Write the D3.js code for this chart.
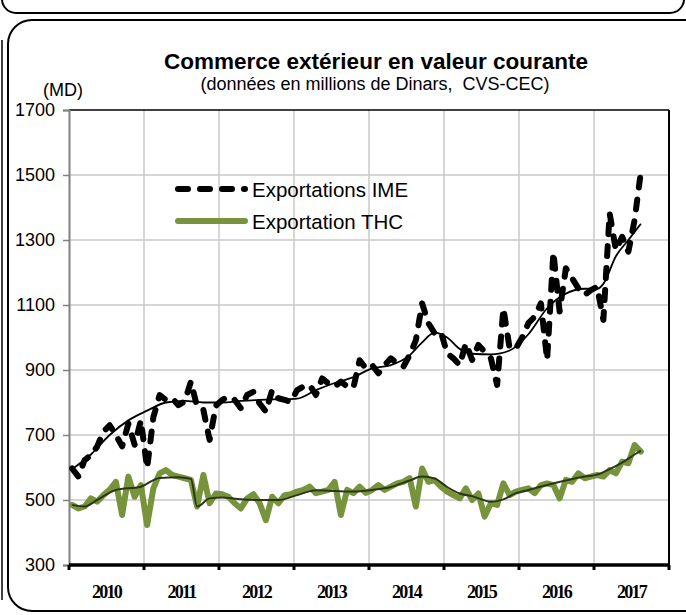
<html>
<head>
<meta charset="utf-8">
<script src="https://d3js.org/d3.v7.min.js"></script>
<style>
body { margin:0; background:#fff; }
</style>
</head>
<body>
<script>
var width = 686;
var height = 615;
var margin = {top:110, right:17, bottom:50, left:69};
var w = width - margin.left - margin.right;
var h = height - margin.top - margin.bottom;

// values, monthly from Jan 2010
var years = ["2010","2011","2012","2013","2014","2015","2016","2017"];
var yTicks = [300, 500, 700, 900, 1100, 1300, 1500, 1700];

var ime = [597,572,623,638,664,710,730,700,665,735,670,745,
           598,755,823,808,813,792,803,864,787,777,685,790,
           808,818,808,782,823,833,797,772,838,813,808,802,
           838,849,854,823,874,859,849,864,849,845,930,905,
           915,890,915,936,920,910,946,992,1105,1044,1013,1018,
           951,936,915,982,931,977,956,936,854,1090,967,967,
           1000,1044,1064,1105,931,1262,1080,1213,1182,1151,1131,1146,
           1156,1054,1382,1269,1310,1264,1362,1510];

var thc = [485,474,480,505,495,515,531,556,454,572,510,546,
           423,536,582,592,577,572,567,562,480,577,490,520,
           518,510,490,474,505,518,490,438,510,490,515,518,
           526,531,541,521,526,531,556,454,531,521,541,522,
           531,546,531,541,551,556,567,480,597,556,561,541,
           526,515,505,536,500,520,449,490,485,551,515,526,
           531,536,521,546,551,546,505,562,556,582,567,572,
           577,572,592,582,618,613,669,649];

// trend curves (month index, value)
var imeTrendIdx = [0,3,6,9,12,15,18,21,24,27,30,33,36,39,42,45,48,51,54,56,58,60,62,64,67,70,73,76,79,82,84,85,87,89,91];
var imeTrend    = [595,640,700,745,775,800,805,800,800,805,808,810,812,838,860,878,905,915,945,985,1015,1000,965,950,948,960,1010,1090,1135,1150,1150,1165,1250,1300,1350];
var thcTrendIdx = [0,2,4,7,11,14,17,19,20,22,24,27,30,33,36,39,42,45,48,51,54,56,58,60,62,64,67,69,71,73,76,79,82,84,86,88,90,91];
var thcTrend    = [485,480,500,531,541,568,570,565,480,505,508,502,500,500,515,530,528,526,531,540,560,572,566,540,520,512,495,502,521,531,546,560,572,578,595,615,640,652];

var svg = d3.select("body").append("svg")
    .attr("width", width)
    .attr("height", height)
    .style("font-family", "Arial, 'Liberation Sans', sans-serif");

// frames
svg.append("rect")
    .attr("x", 2).attr("y", -40).attr("width", 682).attr("height", 53)
    .attr("rx", 14)
    .attr("fill", "none").attr("stroke", "#000").attr("stroke-width", 2);
svg.append("line")
    .attr("x1", 2).attr("x2", 2).attr("y1", 40).attr("y2", 600)
    .attr("stroke", "#000").attr("stroke-width", 1.5);
svg.append("rect")
    .attr("x", 8).attr("y", 20).attr("width", 700).attr("height", 591)
    .attr("rx", 24)
    .attr("fill", "none").attr("stroke", "#000").attr("stroke-width", 2);

var x = d3.scaleLinear().domain([0, 96]).range([0, w]);
var xYear = d3.scaleBand().domain(years).range([0, w]);
var y = d3.scaleLinear().domain([300, 1700]).range([h, 0]);

var g = svg.append("g")
    .attr("transform", "translate(" + margin.left + "," + margin.top + ")");

// grid
g.append("g").selectAll("line")
    .data(yTicks.slice(1, -1))
    .enter().append("line")
    .attr("x1", 0).attr("x2", w)
    .attr("y1", function(d) { return y(d); })
    .attr("y2", function(d) { return y(d); })
    .attr("stroke", "#c8c8c8").attr("stroke-width", 1.5);
g.append("g").selectAll("line")
    .data(years.slice(1))
    .enter().append("line")
    .attr("x1", function(d) { return xYear(d); })
    .attr("x2", function(d) { return xYear(d); })
    .attr("y1", 0).attr("y2", h)
    .attr("stroke", "#c8c8c8").attr("stroke-width", 1.5);

// plot border top / right
g.append("line").attr("x1", 0).attr("x2", w).attr("y1", 0).attr("y2", 0)
    .attr("stroke", "#000").attr("stroke-width", 1.5);
g.append("line").attr("x1", w).attr("x2", w).attr("y1", 0).attr("y2", h)
    .attr("stroke", "#000").attr("stroke-width", 2);

// y axis
var yAxis = g.append("g")
    .call(d3.axisLeft(y).tickValues(yTicks).tickFormat(d3.format("d")).tickSize(6).tickPadding(8));
yAxis.select(".domain").attr("stroke", "#808080").attr("stroke-width", 2);
yAxis.selectAll(".tick line").attr("stroke", "#808080").attr("stroke-width", 1.5);
yAxis.selectAll("text")
    .attr("font-size", 18)
    .attr("font-family", "Arial, 'Liberation Sans', sans-serif")
    .attr("fill", "#000");

// x axis
var xAxis = g.append("g")
    .attr("transform", "translate(0," + h + ")")
    .call(d3.axisBottom(xYear).tickSize(0).tickPadding(20));
xAxis.select(".domain").remove();
xAxis.selectAll("text")
    .attr("font-size", 18)
    .attr("font-weight", "bold")
    .attr("font-family", "'Liberation Serif', 'Times New Roman', serif")
    .attr("letter-spacing", "-1.8px")
    .attr("fill", "#000");
g.append("line").attr("x1", 0).attr("x2", w).attr("y1", h).attr("y2", h)
    .attr("stroke", "#000").attr("stroke-width", 3.5);
g.append("g").selectAll("line")
    .data(years.concat(["end"]))
    .enter().append("line")
    .attr("x1", function(d, i) { return i * xYear.bandwidth(); })
    .attr("x2", function(d, i) { return i * xYear.bandwidth(); })
    .attr("y1", h).attr("y2", h + 5)
    .attr("stroke", "#000").attr("stroke-width", 3);

// series
var line = d3.line()
    .x(function(d, i) { return x(i + 0.5); })
    .y(function(d) { return y(d); });

g.append("path")
    .datum(thc)
    .attr("d", line)
    .attr("fill", "none")
    .attr("stroke", "#77933c")
    .attr("stroke-width", 6)
    .attr("stroke-linejoin", "round")
    .attr("stroke-linecap", "round");

var trendLine = function(idx) {
  return d3.line()
    .curve(d3.curveMonotoneX)
    .x(function(d, i) { return x(idx[i] + 0.5); })
    .y(function(d) { return y(d); });
};

g.append("path")
    .datum(thcTrend)
    .attr("d", trendLine(thcTrendIdx))
    .attr("fill", "none")
    .attr("stroke", "#2b3619")
    .attr("stroke-width", 2);

g.append("path")
    .datum(ime)
    .attr("d", line)
    .attr("fill", "none")
    .attr("stroke", "#000")
    .attr("stroke-width", 6)
    .attr("stroke-dasharray", "10,12")
    .attr("stroke-linejoin", "round")
    .attr("stroke-linecap", "round");

g.append("path")
    .datum(imeTrend)
    .attr("d", trendLine(imeTrendIdx))
    .attr("fill", "none")
    .attr("stroke", "#000")
    .attr("stroke-width", 1.8);

// legend
var legend = svg.append("g");
legend.append("line")
    .attr("x1", 178).attr("x2", 245).attr("y1", 189).attr("y2", 189)
    .attr("stroke", "#000").attr("stroke-width", 6)
    .attr("stroke-dasharray", "10,12").attr("stroke-linecap", "round");
legend.append("text")
    .attr("x", 252).attr("y", 196.5)
    .attr("font-size", 20.5)
    .text("Exportations IME");
legend.append("line")
    .attr("x1", 178).attr("x2", 245).attr("y1", 221).attr("y2", 221)
    .attr("stroke", "#77933c").attr("stroke-width", 6)
    .attr("stroke-linecap", "round");
legend.append("text")
    .attr("x", 252).attr("y", 228.5)
    .attr("font-size", 20.5)
    .text("Exportation THC");

// titles
svg.append("text")
    .attr("x", 376).attr("y", 69)
    .attr("text-anchor", "middle")
    .attr("font-size", 22.5)
    .attr("font-weight", "bold")
    .text("Commerce extérieur en valeur courante");
svg.append("text")
    .attr("x", 375).attr("y", 90)
    .attr("text-anchor", "middle")
    .attr("font-size", 18)
    .style("white-space", "pre")
    .text("(données en millions de Dinars,  CVS-CEC)");
svg.append("text")
    .attr("x", 63).attr("y", 96)
    .attr("text-anchor", "middle")
    .attr("font-size", 18)
    .text("(MD)");
</script>
</body>
</html>
